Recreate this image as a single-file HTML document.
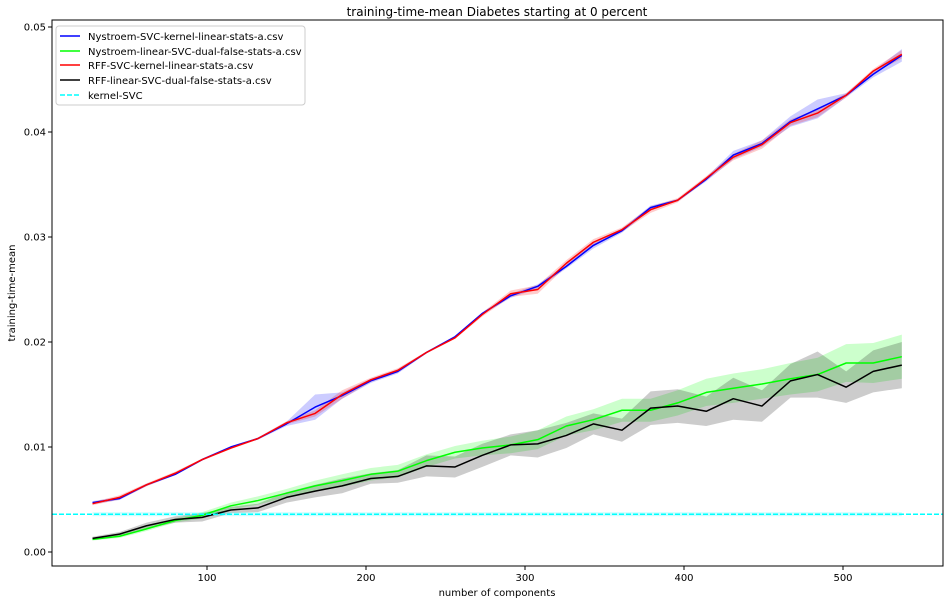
<!DOCTYPE html>
<html><head><meta charset="utf-8"><style>
body{margin:0;background:#fff;font-family:"Liberation Sans","DejaVu Sans",sans-serif;}
svg text{font-family:"DejaVu Sans","Liberation Sans",sans-serif;}
</style></head><body>
<svg id="chart" width="950" height="604" viewBox="0 0 950 604">
<rect x="0" y="0" width="950" height="604" fill="#fff"/>
<g id="plot"></g>
<g id="axes"></g>
<text x="497" y="16" text-anchor="middle" font-size="12" fill="#000">training-time-mean Diabetes starting at 0 percent</text>
<text x="497" y="596" text-anchor="middle" font-size="10" fill="#000">number of components</text>
<text x="15" y="293" text-anchor="middle" font-size="10" fill="#000" transform="rotate(-90 15 293)">training-time-mean</text>
<g>
<rect x="56" y="26" width="249" height="79" rx="3" fill="#fff" fill-opacity="0.8" stroke="#ccc"/>
<g><line x1="60" y1="36" x2="80" y2="36" stroke="#0000ff" stroke-width="1.5"/><text x="88" y="40" font-size="10">Nystroem-SVC-kernel-linear-stats-a.csv</text></g>
<g><line x1="60" y1="51" x2="80" y2="51" stroke="#00ff00" stroke-width="1.5"/><text x="88" y="55" font-size="10">Nystroem-linear-SVC-dual-false-stats-a.csv</text></g>
<g><line x1="60" y1="65" x2="80" y2="65" stroke="#ff0000" stroke-width="1.5"/><text x="88" y="69" font-size="10">RFF-SVC-kernel-linear-stats-a.csv</text></g>
<g><line x1="60" y1="80" x2="80" y2="80" stroke="#000" stroke-width="1.5"/><text x="88" y="84" font-size="10">RFF-linear-SVC-dual-false-stats-a.csv</text></g>
<g><line x1="60" y1="95" x2="80" y2="95" stroke="#00ffff" stroke-width="1.5" stroke-dasharray="5,2"/><text x="88" y="99" font-size="10">kernel-SVC</text></g>
</g>
</svg>
<script>
const components=[28,45,62,80,97,115,132,150,168,185,203,220,238,256,273,291,308,326,343,361,379,396,414,431,449,467,484,502,519,537];
const nysSvc=[4.7,5.1,6.4,7.4,8.8,10.0,10.8,12.2,13.8,14.9,16.3,17.2,19.0,20.5,22.7,24.4,25.3,27.2,29.2,30.6,32.8,33.5,35.5,37.8,38.9,41.0,42.2,43.5,45.5,47.3];
const nysSvcStd=[0.15,0.15,0.1,0.1,0.1,0.1,0.1,0.2,1.2,0.3,0.2,0.2,0.1,0.1,0.1,0.2,0.2,0.2,0.3,0.2,0.2,0.1,0.2,0.4,0.3,0.5,0.9,0.2,0.3,0.6];
const nysLin=[1.2,1.5,2.2,3.0,3.5,4.4,4.9,5.6,6.3,6.8,7.4,7.7,8.7,9.5,9.9,10.2,10.7,12.0,12.6,13.5,13.5,14.2,15.2,15.6,16.0,16.5,16.9,18.0,18.0,18.6];
const nysLinStd=[0.1,0.15,0.2,0.2,0.3,0.3,0.4,0.4,0.5,0.6,0.6,0.6,0.6,0.6,0.7,0.8,0.9,0.9,1.0,1.1,1.1,1.2,1.3,1.4,1.4,1.5,1.6,1.8,1.9,2.1];
const rffSvc=[4.6,5.2,6.4,7.5,8.8,9.9,10.8,12.3,13.2,15.0,16.4,17.3,19.0,20.4,22.6,24.6,25.0,27.5,29.5,30.7,32.6,33.5,35.6,37.6,38.8,40.9,41.8,43.5,45.8,47.4];
const rffSvcStd=[0.15,0.2,0.15,0.15,0.1,0.1,0.1,0.15,0.3,0.4,0.2,0.2,0.1,0.1,0.2,0.3,0.4,0.3,0.3,0.2,0.3,0.2,0.2,0.3,0.4,0.3,0.4,0.2,0.2,0.4];
const rffLin=[1.3,1.7,2.5,3.1,3.3,4.0,4.2,5.2,5.8,6.3,7.0,7.2,8.2,8.1,9.2,10.2,10.3,11.1,12.2,11.6,13.7,13.9,13.4,14.6,13.9,16.3,16.9,15.7,17.2,17.8];
const rffLinStd=[0.15,0.2,0.3,0.3,0.4,0.3,0.4,0.5,0.6,0.7,0.5,0.6,1.0,1.0,1.1,1.0,1.3,1.2,1.0,1.1,1.6,1.6,1.4,2.0,1.5,1.6,2.2,1.5,2.0,2.2];
const kernelSvc=3.6;
const xTicks=[100,200,300,400,500];
const yTicks=[0,0.01,0.02,0.03,0.04,0.05];
const yTickLabels=["0.00","0.01","0.02","0.03","0.04","0.05"];

const NS='http://www.w3.org/2000/svg';
const L=52,R=943,T=20,B=566;
function xs(v){return 48+v*1.59;}
function ys(v){return 552-v*10500;}
function ysm(v){return ys(v/1000);}
const plot=document.getElementById('plot'),axes=document.getElementById('axes');
function mk(tag,attrs,parent){const e=document.createElementNS(NS,tag);for(const k in attrs)e.setAttribute(k,attrs[k]);parent.appendChild(e);return e;}

function band(vals,std,color,op,name){
  let up=components.map((c,i)=>xs(c)+','+ysm(vals[i]+std[i]));
  let dn=components.map((c,i)=>xs(c)+','+ysm(vals[i]-std[i])).reverse();
  const p=mk('polygon',{points:up.concat(dn).join(' '),fill:color,'fill-opacity':op},plot);
  
  
}
function line(vals,color,name){
  const p=mk('polyline',{points:components.map((c,i)=>xs(c)+','+ysm(vals[i])).join(' '),fill:'none',stroke:color,'stroke-width':1.5,'stroke-linejoin':'round'},plot);
  
  
}
band(nysSvc,nysSvcStd,'#0000ff',0.2,'nystroem-svc-band');
band(nysLin,nysLinStd,'#00ff00',0.2,'nystroem-linear-band');
band(rffSvc,rffSvcStd,'#ff0000',0.2,'rff-svc-band');
band(rffLin,rffLinStd,'#000000',0.2,'rff-linear-band');
const kb=mk('rect',{x:xs(components[0]),y:ysm(kernelSvc)-2,width:xs(components[components.length-1])-xs(components[0]),height:4,fill:'#00ffff','fill-opacity':0.2},plot);


line(nysSvc,'#0000ff','nystroem-svc-line');
line(nysLin,'#00ff00','nystroem-linear-line');
line(rffSvc,'#ff0000','rff-svc-line');
line(rffLin,'#000000','rff-linear-line');
const kl=mk('line',{x1:L,x2:R,y1:ysm(kernelSvc),y2:ysm(kernelSvc),stroke:'#00ffff','stroke-width':1.5,'stroke-dasharray':'5,2'},plot);



const frame=mk('rect',{x:L,y:T,width:R-L,height:B-T,fill:'none',stroke:'#000','stroke-width':1},axes);


xTicks.forEach(t=>{
  const tk=mk('line',{x1:xs(t),x2:xs(t),y1:B,y2:B+4,stroke:'#000'},axes);
  
  
  const tx=mk('text',{x:xs(t),y:B+15,'text-anchor':'middle','font-size':10},axes);
  tx.textContent=t;
  
  
});
yTicks.forEach((t,i)=>{
  const tk=mk('line',{x1:L-4,x2:L,y1:ys(t),y2:ys(t),stroke:'#000'},axes);
  
  
  const tx=mk('text',{x:L-6,y:ys(t)+3.5,'text-anchor':'end','font-size':10},axes);
  tx.textContent=yTickLabels[i];
  
  
});
</script>
</body></html>
